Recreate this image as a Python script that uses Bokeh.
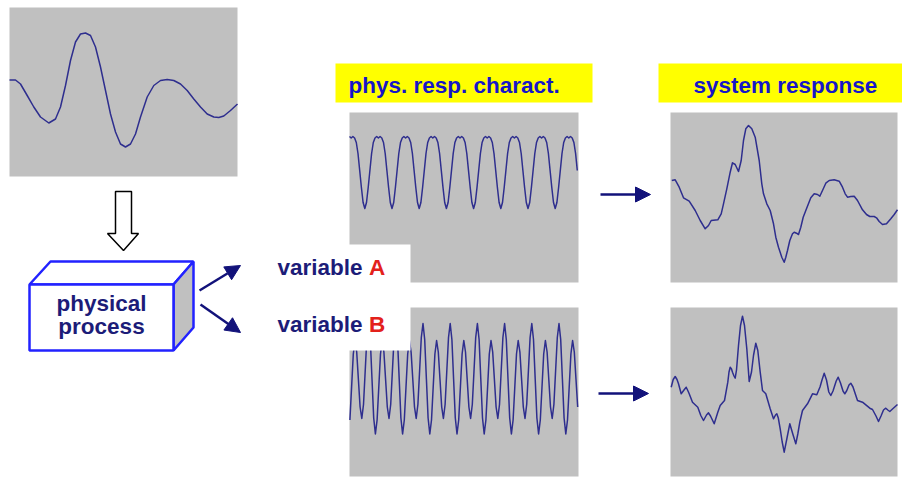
import numpy as np
from bokeh.plotting import figure
from bokeh.models import Range1d, Label, Arrow, NormalHead
from bokeh.embed import file_html
from bokeh.resources import INLINE

# ---------------- data (signal time t, amplitude v) ----------------
# excitation signal (top-left panel)
src_t = [0, 6, 11, 17.7, 24.3, 31, 39.3, 46, 51, 56, 61, 66, 71, 76, 81, 86, 91, 96, 101, 106,
         111, 116, 121, 126, 131, 137.7, 144.3, 151, 157.7, 164.3, 171, 177.7, 184.3, 191, 197.7,
         204.3, 209.3, 214.3, 221, 228]
src_v = [12, 12, 8, -3.5, -15, -25, -31, -27, -15, 6.5, 31.5, 50, 58, 59, 56.5, 45, 25, 1.5, -22, -40,
         -52, -55, -52, -42, -25, -5, 6.5, 11.5, 12.5, 11.5, 8, 1.5, -7, -15, -22, -25, -25.5, -24, -18.5, -12]

# physical response characteristic, variable A (sampled every 1.7 time units)
step = 1.7
respA_v = [61, 59.5, 61, 59.5, 55, 44, 27, 10, -5,
           -11, -5, 10, 27, 44, 55, 59.5, 61, 59.5, 61, 59.5, 55, 44, 27, 10, -5,
           -11, -5, 10, 27, 44, 55, 59.5, 61, 59.5, 61, 59.5, 55, 44, 27, 10, -5,
           -11, -5, 10, 27, 44, 55, 59.5, 61, 59.5, 61, 59.5, 55, 44, 27, 10, -5,
           -11, -5, 10, 27, 44, 55, 59.5, 61, 59.5, 61, 59.5, 55, 44, 27, 10, -5,
           -11, -5, 10, 27, 44, 55, 59.5, 61, 59.5, 61, 59.5, 55, 44, 27, 10, -5,
           -11, -5, 10, 27, 44, 55, 59.5, 61, 59.5, 61, 59.5, 55, 44, 27, 10, -5,
           -11, -5, 10, 27, 44, 55, 59.5, 61, 59.5, 61, 59.5, 55, 44, 27, 10, -5,
           -11, -5, 10, 27, 44, 55, 59.5, 61, 59.5, 61, 59.5, 55, 44, 27]
respA_t0 = 0.0

# physical response characteristic, variable B
respB_v = [-28, 5, 38,
           51.5, 40, 12.5, -15, -26.5, -12.5, 21, 54.5, 68.5, 52.5, 13, -26, -42, -28, 5, 38,
           51.5, 40, 12.5, -15, -26.5, -12.5, 21, 54.5, 68.5, 52.5, 13, -26, -42, -28, 5, 38,
           51.5, 40, 12.5, -15, -26.5, -12.5, 21, 54.5, 68.5, 52.5, 13, -26, -42, -28, 5, 38,
           51.5, 40, 12.5, -15, -26.5, -12.5, 21, 54.5, 68.5, 52.5, 13, -26, -42, -28, 5, 38,
           51.5, 40, 12.5, -15, -26.5, -12.5, 21, 54.5, 68.5, 52.5, 13, -26, -42, -28, 5, 38,
           51.5, 40, 12.5, -15, -26.5, -12.5, 21, 54.5, 68.5, 52.5, 13, -26, -42, -28, 5, 38,
           51.5, 40, 12.5, -15, -26.5, -12.5, 21, 54.5, 68.5, 52.5, 13, -26, -42, -28, 5, 38,
           51.5, 40, 12.5, -15, -26.5, -12.5, 21, 54.5, 68.5, 52.5, 13, -26, -42, -28, 5, 38,
           51.5, 40, 12.5, -15]
respB_t0 = 0.4

# system response, variable A
sysA_t = [1.3, 4.7, 8.7, 13, 18.7, 24.7, 29.7, 34.7, 38, 40.7, 47.3, 50.7, 53, 56.3, 59.7, 62, 64.7, 68,
          70.7, 73, 75.3, 78, 81.3, 84.7, 88.7, 91.3, 93, 96.3, 99.7, 103, 105.3, 108, 111.3, 113.7,
          115.3, 117, 119.3, 122, 123.7, 126, 128, 130.3, 132.7, 135.3, 140.3, 143.7, 147, 149.3, 152,
          155.3, 158.7, 163.7, 168.7, 172, 174.7, 177, 180.3, 183.7, 187, 192, 196, 199.3, 203.7, 206,
          208.7, 212, 216, 220.3, 223.7, 227]
sysA_v = [17, 17.7, 10.3, -0.3, -3.7, -13, -23, -31.3, -28, -23, -22.3, -16.3, -6.3, 8.7, 25.3, 34.7,
          33, 26, 37, 57, 68.7, 72, 68.7, 60.3, 37, 13.7, 3.7, -6.3, -13, -26.3, -39.7, -49.7, -59.7,
          -64.7, -59.7, -53, -43, -36.3, -34.7, -35.7, -37, -29.7, -19.7, -13, -0.3, 3.7, 3, 1.3, 7,
          14.3, 17, 17.7, 16.3, 10.3, 3.7, 0.3, 1, 1.3, -3, -12.3, -17, -19, -19, -20.3, -24, -27,
          -26.3, -21.3, -17, -12.3]

# system response, variable B
sysB_t = [0.7, 2.7, 4.7, 6.5, 8, 10.7, 13.5, 15.7, 17.5, 18.7, 22, 27.3, 30.3, 33, 36, 38, 40, 43.7,
          47.3, 49.7, 54, 57.3, 58.5, 59.7, 61, 62, 63.5, 64.7, 66, 68, 70, 72, 74, 76.3, 78.7, 81, 83,
          85.3, 87.3, 89.7, 92, 95.3, 99.7, 103, 105, 106.3, 107.8, 109.7, 111.7, 113.7, 116.5, 119.3,
          122.3, 125.3, 127.3, 129.3, 132, 137, 142, 146.3, 149.5, 151.5, 153.7, 156, 158.3, 160.3,
          162.5, 165.7, 167.7, 170, 172.5, 174.3, 176.3, 178.5, 180.3, 182.5, 187, 192, 199.3, 202,
          205.5, 208, 210.5, 213, 215.3, 217.3, 219.3, 222, 227]
sysB_v = [4.8, 12.5, 15.5, 12.5, 8.2, -1.8, 2, 4.8, 1, -1.8, -10.2, -15.2, -23.5, -28.5, -23, -20.8,
          -24, -31.8, -20.2, -13.5, -8.5, 9.8, 20, 24.8, 23, 19.8, 16, 13.8, 22, 46.5, 66.5, 75.8,
          66.5, 43.2, 10.5, 20, 36.5, 48.8, 41.5, 19.8, 1.5, -1.8, -16.8, -26.8, -23, -21.8, -26,
          -36.8, -50, -60.2, -46, -31.8, -42, -51.8, -42, -30.2, -18.5, -11.8, -1.8, -2.8, 5, 12,
          18.8, 12, 0, -3.5, 1, 11, 14.8, 9, 1, -1.8, 1.5, 7, 8.8, 5, -8.5, -10.2, -16.2, -17.5,
          -24, -29.5, -24, -18, -16.2, -18, -19.5, -17, -12.5]

# texts
heading_labels = ["phys. resp. charact.", "system response"]
box_lines = ["physical", "process"]
var_word = "variable "
var_names = ["A", "B"]

# ---------------- styling ----------------
FONT = "Liberation Sans"
SIZE = "22.5px"
GRAY = "#c0c0c0"
CURVE = "#2e2e8e"
NAVY = "#12127a"
TEXT_NAVY = "#1c1c78"
TEXT_BLUE = "#1616c8"
RED = "#e3211b"
BOX_BLUE = "#2222ff"

X0, X1, Y0, Y1 = 0, 902, 0, 477
p = figure(width=X1 - X0, height=Y1 - Y0, x_range=Range1d(X0, X1), y_range=Range1d(Y1, Y0),
           output_backend="svg", toolbar_location=None, min_border=0,
           x_axis_location=None, y_axis_location=None)
p.grid.visible = False
p.outline_line_color = None
p.background_fill_color = "white"
p.border_fill_color = "white"

# panels: left, right, top, bottom on the page
panels = {
    "src": (9, 237, 7, 176),
    "respA": (349, 578, 112, 282),
    "respB": (349, 578, 307, 476),
    "sysA": (670, 897, 112, 282),
    "sysB": (670, 897, 307, 476),
}
for name, (L, R, T, B) in panels.items():
    p.quad(left=L, right=R, top=T, bottom=B, fill_color=GRAY, line_color=None)
    cy = (T + B) / 2
    p.extra_x_ranges[name] = Range1d(X0 - L, X1 - L)
    p.extra_y_ranges[name] = Range1d(cy - Y1, cy - Y0)

respA_t = list(np.round(respA_t0 + step * np.arange(len(respA_v)), 2))
respB_t = list(np.round(respB_t0 + step * np.arange(len(respB_v)), 2))
curves = {
    "src": (src_t, src_v),
    "respA": (respA_t, respA_v),
    "respB": (respB_t, respB_v),
    "sysA": (sysA_t, sysA_v),
    "sysB": (sysB_t, sysB_v),
}
for name, (t, v) in curves.items():
    p.line(t, v, x_range_name=name, y_range_name=name, line_color=CURVE, line_width=1.5,
           line_join="round")

# white label area covering part of the response panels
p.quad(left=262, right=410, top=244, bottom=350, fill_color="white", line_color=None)

# yellow headings
p.quad(left=[335, 658], right=[592, 905], top=[63, 63], bottom=[102, 102],
       fill_color="#ffff00", line_color=None)
for x, txt in zip([348, 693], heading_labels):
    p.add_layout(Label(x=x, y=85, text=txt, text_font=FONT, text_font_size=SIZE,
                       text_font_style="bold", text_color=TEXT_BLUE, text_baseline="alphabetic"))

# hollow down arrow
p.patch([115, 131, 131, 138, 123, 107, 115], [191, 191, 233, 233, 250, 233, 233],
        fill_color="white", line_color="black", line_width=1.5)

# 3-D box
p.patch([29, 50, 193, 173], [284, 261, 261, 284], fill_color="white", line_color=BOX_BLUE, line_width=2.5)
p.patch([173, 193, 193, 173], [284, 261, 327, 350], fill_color=GRAY, line_color=BOX_BLUE, line_width=2.5)
p.quad(left=29, right=173, top=284, bottom=350, fill_color="white", line_color=BOX_BLUE, line_width=2.5)
for y, txt in zip([302.5, 326], box_lines):
    p.add_layout(Label(x=101, y=y, text=txt, text_font=FONT, text_font_size=SIZE,
                       text_font_style="bold", text_color=TEXT_NAVY, text_align="center",
                       text_baseline="alphabetic"))

# variable labels
for y, nm in zip([266.5, 323.5], var_names):
    p.add_layout(Label(x=277, y=y, text=var_word, text_font=FONT, text_font_size=SIZE,
                       text_font_style="bold", text_color=TEXT_NAVY, text_baseline="alphabetic"))
    p.add_layout(Label(x=368.5, y=y, text=nm, text_font=FONT, text_font_size=SIZE,
                       text_font_style="bold", text_color=RED, text_baseline="alphabetic"))

# navy arrows
arrows = [(199, 290, 240, 265), (200, 304, 240, 332), (600, 194, 650, 194), (598, 393, 648, 393)]
for xs, ys, xe, ye in arrows:
    p.add_layout(Arrow(end=NormalHead(size=15, fill_color=NAVY, line_color=NAVY, line_width=1),
                       x_start=xs, y_start=ys, x_end=xe, y_end=ye,
                       line_color=NAVY, line_width=2.5))

open("out.html", "w").write(file_html(p, INLINE))
